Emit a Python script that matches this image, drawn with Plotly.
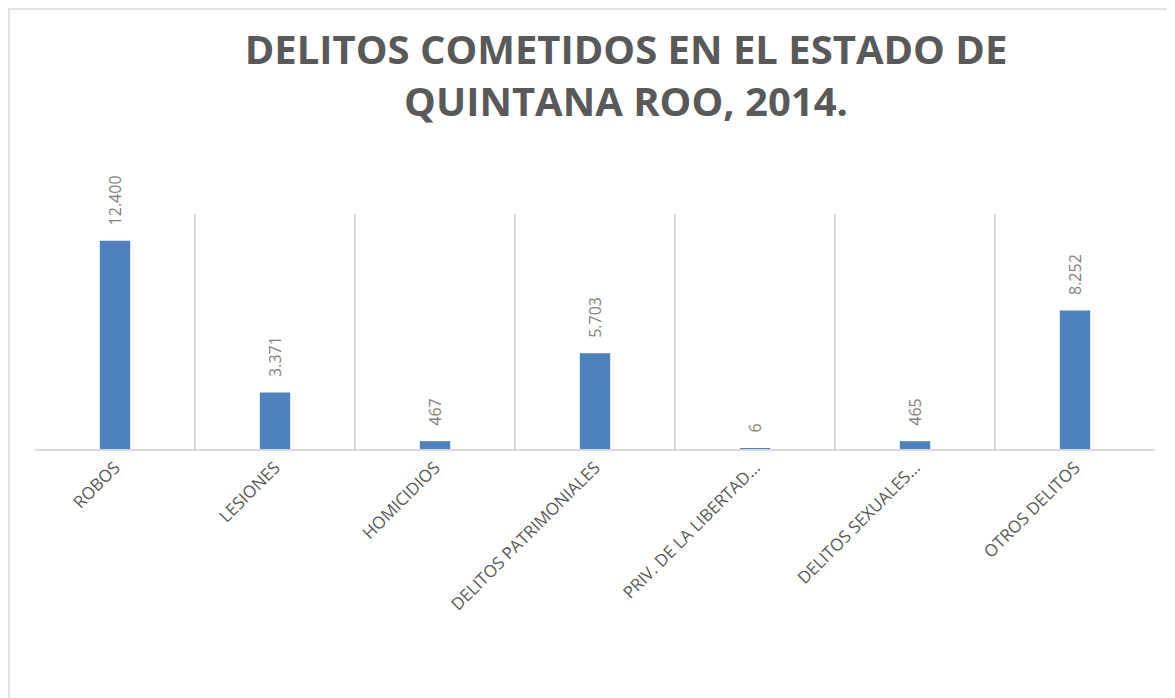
import plotly.graph_objects as go

categorias = ["ROBOS", "LESIONES", "HOMICIDIOS", "DELITOS PATRIMONIALES",
              "PRIV. DE LA LIBERTAD…", "DELITOS SEXUALES…", "OTROS DELITOS"]
delitos = [12400, 3371, 467, 5703, 6, 465, 8252]

titulo = "DELITOS COMETIDOS EN EL ESTADO DE<br>QUINTANA ROO, 2014."

fig = go.Figure()

fig.add_trace(go.Bar(
    x=categorias,
    y=delitos,
    marker=dict(color="#4F81BD", line=dict(width=0)),
    texttemplate="\u00a0\u00a0\u00a0%{y:,}",
    textposition="outside",
    textangle=-90,
    constraintext="none",
    textfont=dict(family="Open Sans", size=16, color="#7F7F7F"),
    cliponaxis=False,
))

# the page adds an 8px body margin, so positions are shifted by -8
fig.update_layout(
    width=1175,
    height=698,
    separators=",.",
    paper_bgcolor="white",
    plot_bgcolor="white",
    margin=dict(l=27, r=28, t=206, b=257),
    bargap=0.81,
    showlegend=False,
    title=dict(
        text="<b>" + titulo + "</b>",
        x=(626 - 8) / 1175,
        xanchor="center",
        y=1 - 56 / 698,
        yanchor="top",
        yref="container",
        font=dict(family="Open Sans", size=40, color="#595959"),
    ),
    xaxis=dict(
        type="category",
        tickson="boundaries",
        showgrid=True,
        gridcolor="#D9D9D9",
        gridwidth=1.5,
        showline=True,
        linecolor="#D9D9D9",
        linewidth=2,
        ticks="",
        tickangle=-45,
        tickfont=dict(family="Open Sans", size=17, color="#595959"),
        range=[-0.5, 6.5],
    ),
    yaxis=dict(
        range=[0, 14000],
        showgrid=False,
        zeroline=False,
        showticklabels=False,
        showline=False,
    ),
    shapes=[dict(
        type="rect", xref="paper", yref="paper",
        x0=-26 / 1120, x1=1.03, y0=-1.2, y1=1 + 205 / 235,
        line=dict(color="#D9D9D9", width=1.5),
        fillcolor="rgba(0,0,0,0)",
        layer="below",
    )],
)

fig.write_html("out.html")
